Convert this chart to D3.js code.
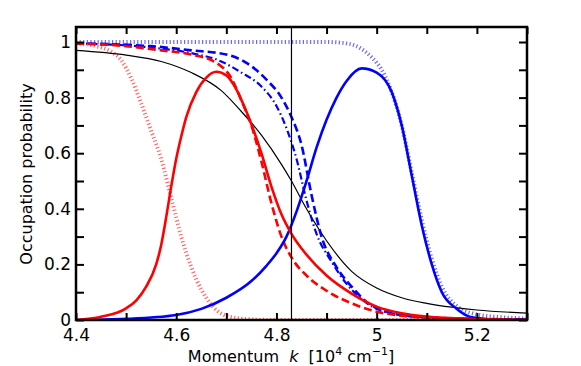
<!DOCTYPE html>
<html lang="en">
<head>
<meta charset="utf-8">
<script src="https://cdn.jsdelivr.net/npm/d3@7"></script>
<style>
    body { margin: 0; background: #fff; }
    text { font-family: "DejaVu Sans", sans-serif; }
</style>
</head>
<body>
<script>
    // curves: [k, occupation]
    const redSolid = [[4.40,0.0],[4.45,0.012],[4.50,0.042],[4.52,0.07],[4.54,0.12],[4.56,0.20],[4.57,0.27],[4.58,0.37],[4.59,0.48],[4.60,0.58],[4.61,0.66],[4.62,0.73],[4.64,0.82],[4.66,0.872],[4.68,0.893],[4.70,0.88],[4.72,0.83],[4.74,0.75],[4.77,0.60],[4.79,0.48],[4.81,0.38],[4.83,0.31],[4.86,0.235],[4.90,0.16],[4.95,0.095],[5.00,0.048],[5.05,0.024],[5.10,0.012],[5.20,0.003],[5.30,0.0]];
    const redDashed = [[4.40,0.995],[4.50,0.985],[4.57,0.97],[4.63,0.955],[4.68,0.925],[4.71,0.87],[4.73,0.79],[4.75,0.70],[4.77,0.57],[4.79,0.42],[4.81,0.30],[4.83,0.225],[4.86,0.16],[4.90,0.105],[4.95,0.06],[5.00,0.03],[5.05,0.015],[5.10,0.008],[5.20,0.003],[5.30,0.0]];
    const redDotted = [[4.40,0.995],[4.44,0.985],[4.47,0.965],[4.49,0.935],[4.51,0.87],[4.53,0.78],[4.55,0.68],[4.57,0.58],[4.59,0.44],[4.61,0.30],[4.63,0.19],[4.65,0.11],[4.67,0.055],[4.70,0.015],[4.75,0.002],[4.80,0.0],[5.30,0.0]];
    const blueSolid = [[4.40,0.0],[4.50,0.004],[4.60,0.018],[4.65,0.04],[4.70,0.08],[4.75,0.14],[4.78,0.195],[4.80,0.24],[4.82,0.30],[4.84,0.39],[4.86,0.50],[4.88,0.62],[4.90,0.72],[4.92,0.80],[4.94,0.86],[4.97,0.905],[5.00,0.89],[5.03,0.82],[5.05,0.70],[5.07,0.52],[5.09,0.34],[5.11,0.20],[5.13,0.10],[5.16,0.04],[5.19,0.01],[5.25,0.0],[5.30,0.0]];
    const blueDashed = [[4.40,0.995],[4.55,0.985],[4.63,0.97],[4.70,0.955],[4.74,0.925],[4.78,0.865],[4.81,0.80],[4.83,0.73],[4.85,0.63],[4.87,0.45],[4.89,0.30],[4.92,0.19],[4.95,0.12],[4.98,0.065],[5.02,0.03],[5.07,0.013],[5.15,0.006],[5.30,0.002]];
    const blueDashDot = [[4.40,0.995],[4.55,0.98],[4.63,0.96],[4.69,0.93],[4.73,0.89],[4.77,0.84],[4.80,0.77],[4.82,0.69],[4.84,0.58],[4.86,0.43],[4.88,0.31],[4.91,0.21],[4.94,0.13],[4.97,0.075],[5.00,0.04],[5.05,0.018],[5.10,0.01],[5.20,0.004],[5.30,0.002]];
    const blueDotted = [[4.40,1.0],[4.90,1.0],[4.94,0.995],[4.97,0.975],[4.99,0.945],[5.01,0.90],[5.03,0.82],[5.05,0.70],[5.07,0.53],[5.09,0.36],[5.11,0.22],[5.13,0.12],[5.16,0.05],[5.20,0.02],[5.25,0.01],[5.30,0.005]];
    const blackSolid = [[4.40,0.97],[4.50,0.953],[4.57,0.93],[4.63,0.89],[4.69,0.825],[4.73,0.75],[4.77,0.665],[4.81,0.56],[4.83,0.50],[4.86,0.40],[4.90,0.285],[4.95,0.175],[5.00,0.115],[5.05,0.08],[5.10,0.06],[5.15,0.046],[5.20,0.036],[5.30,0.025]];
    const kMarker = 4.83;

    const xTicks = [4.4,4.5,4.6,4.7,4.8,4.9,5.0,5.1,5.2,5.3];
    const xTickLabels = {"4.4":"4.4","4.6":"4.6","4.8":"4.8","5":"5","5.2":"5.2"};
    const yTicks = [0,0.1,0.2,0.3,0.4,0.5,0.6,0.7,0.8,0.9,1.0];
    const yTickLabels = {"0":"0","0.2":"0.2","0.4":"0.4","0.6":"0.6","0.8":"0.8","1":"1"};

    const w = 581, h = 366;
    const pLeft = 76, pRight = 527, pBottom = 320, pTop = 27;

    const svg = d3.select("body").append("svg")
        .attr("width", w).attr("height", h);

    const x = d3.scaleLinear().domain([4.4, 5.3]).range([pLeft, pRight]);
    const y = d3.scaleLinear().domain([0, 1]).range([pBottom, 42]);

    svg.append("clipPath").attr("id", "plot")
        .append("rect").attr("x", pLeft).attr("y", pTop)
        .attr("width", pRight - pLeft).attr("height", pBottom - pTop);

    const line = d3.line()
        .x((d) => x(d[0]))
        .y((d) => y(d[1]))
        .curve(d3.curveMonotoneX);

    const g = svg.append("g").attr("clip-path", "url(#plot)");

    const series = [
        {data: redDotted, color: "#ff6a6a", width: 4, dash: "1.2,2.4"},
        {data: blueDotted, color: "#6a6aff", width: 4, dash: "1.2,2.4"},
        {data: blackSolid, color: "#000", width: 1.2, dash: null},
        {data: blueDashDot, color: "#0000ff", width: 2.2, dash: "7,3,1.5,3"},
        {data: blueDashed, color: "#0000ff", width: 2.6, dash: "8,4"},
        {data: redDashed, color: "#ff0000", width: 2.6, dash: "8,4"},
        {data: blueSolid, color: "#0000ff", width: 2.6, dash: null},
        {data: redSolid, color: "#ff0000", width: 2.6, dash: null}
    ];

    series.forEach((s) => {
        g.append("path")
            .attr("d", line(s.data))
            .attr("fill", "none")
            .attr("stroke", s.color)
            .attr("stroke-width", s.width)
            .attr("stroke-dasharray", s.dash);
    });

    svg.append("line")
        .attr("x1", x(kMarker)).attr("x2", x(kMarker))
        .attr("y1", pTop).attr("y2", pBottom)
        .attr("stroke", "#000").attr("stroke-width", 1.2);

    // axes, ticks pointing inward
    const fmt = (labels) => (d) => labels[String(+d.toFixed(1))] || "";

    svg.append("g").attr("transform", "translate(0," + pBottom + ")")
        .call(d3.axisBottom(x).tickValues(xTicks).tickSize(-7).tickPadding(9).tickFormat(fmt(xTickLabels)));
    svg.append("g").attr("transform", "translate(0," + pTop + ")")
        .call(d3.axisTop(x).tickValues(xTicks).tickSize(-7).tickFormat(""));
    svg.append("g").attr("transform", "translate(" + pLeft + ",0)")
        .call(d3.axisLeft(y).tickValues(yTicks).tickSize(-8).tickPadding(5).tickFormat(fmt(yTickLabels)));
    svg.append("g").attr("transform", "translate(" + pRight + ",0)")
        .call(d3.axisRight(y).tickValues(yTicks).tickSize(-8).tickFormat(""));

    svg.selectAll(".domain").remove();
    svg.selectAll(".tick line").attr("stroke", "#000").attr("stroke-width", 2);
    svg.selectAll(".tick text").attr("font-size", 17).attr("fill", "#000")
        .attr("font-family", "DejaVu Sans, sans-serif");

    svg.append("rect")
        .attr("x", pLeft).attr("y", pTop)
        .attr("width", pRight - pLeft).attr("height", pBottom - pTop)
        .attr("fill", "none").attr("stroke", "#000").attr("stroke-width", 2.5);

    const xl = svg.append("text")
        .attr("x", 291).attr("y", 362)
        .attr("text-anchor", "middle")
        .attr("font-size", 16)
        .style("white-space", "pre");
    xl.append("tspan").text("Momentum  ");
    xl.append("tspan").attr("font-style", "italic").text("k");
    xl.append("tspan").text("  [10");
    xl.append("tspan").attr("dy", -7).attr("font-size", 11).text("4");
    xl.append("tspan").attr("dy", 7).text(" cm");
    xl.append("tspan").attr("dy", -7).attr("font-size", 11).text("\u22121");
    xl.append("tspan").attr("dy", 7).text("]");

    svg.append("text")
        .attr("transform", "translate(32,174) rotate(-90)")
        .attr("text-anchor", "middle")
        .attr("font-family", "Liberation Sans, Arial, sans-serif")
        .attr("font-size", 16)
        .text("Occupation probability");
</script>
</body>
</html>
